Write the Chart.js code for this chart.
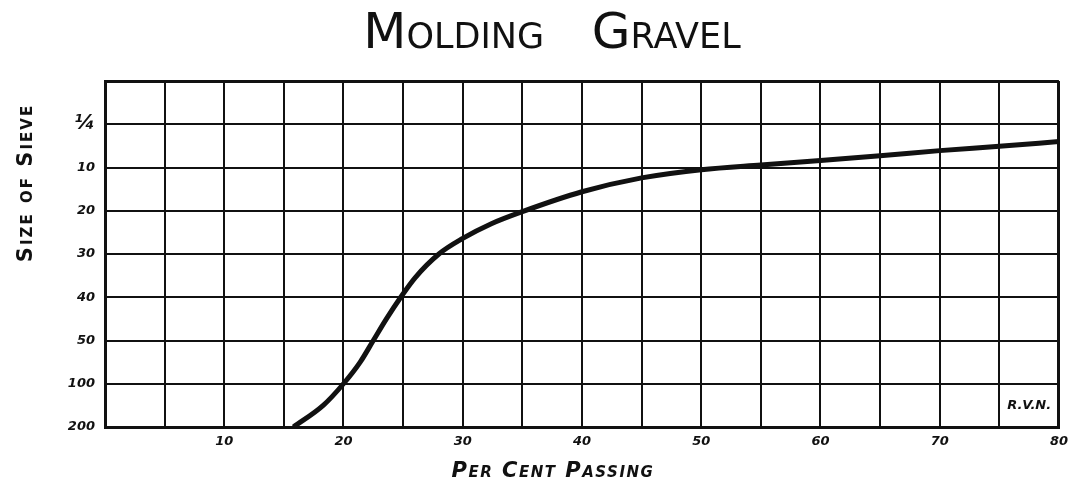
<!DOCTYPE html>
<html>
<head>
<meta charset="utf-8">
<title>Molding Gravel</title>
<script src="https://cdn.jsdelivr.net/npm/chart.js@4/dist/chart.umd.min.js"></script>
<style>
  body { margin: 0; background: #fff; }
  canvas { display: block; }
</style>
</head>
<body>
<canvas id="chart" width="1075" height="481"></canvas>
<script>
// Sieve sizes, bottom to top (position index on the y axis)
const sieveLabels = ['200', '100', '50', '40', '30', '20', '10', '¼', ''];
const xTickLabels = [10, 20, 30, 40, 50, 60, 70, 80];

// Curve: per cent passing vs sieve position
const percentPassing = [15.8, 18.3, 20, 21.4, 22.5, 23.6, 24.8, 26, 28, 30, 32.4, 35, 40, 45, 50, 55, 60, 65, 70, 75, 80];
const sievePosition  = [0, 0.5, 1, 1.5, 2, 2.5, 3, 3.45, 4, 4.36, 4.7, 4.98, 5.44, 5.76, 5.95, 6.06, 6.16, 6.27, 6.39, 6.49, 6.6];

const ink = '#111';

// Hand-lettered titles and the initials box
const letteringPlugin = {
  id: 'lettering',
  afterDraw(chart) {
    const { ctx, chartArea, scales } = chart;
    const midX = (chartArea.left + chartArea.right) / 2;
    ctx.save();
    ctx.fillStyle = ink;

    ctx.font = 'small-caps 50px "DejaVu Sans"';
    ctx.textAlign = 'center';
    ctx.textBaseline = 'alphabetic';
    ctx.fillText('Molding   Gravel', midX - 30, 48);

    ctx.font = 'italic small-caps bold 21px "DejaVu Sans"';
    ctx.letterSpacing = '1.5px';
    ctx.fillText('Per Cent Passing', midX - 29, 477);

    ctx.save();
    ctx.font = 'small-caps bold 21px "DejaVu Sans"';
    ctx.letterSpacing = '2px';
    ctx.translate(32, chartArea.top + 102);
    ctx.rotate(-Math.PI / 2);
    ctx.fillText('Size of Sieve', 0, 0);
    ctx.restore();

    ctx.letterSpacing = '0px';
    ctx.font = 'italic bold 13px "DejaVu Sans"';
    ctx.textBaseline = 'middle';
    ctx.fillText('R.V.N.', scales.x.getPixelForValue(77.5), scales.y.getPixelForValue(0.5));
    ctx.restore();
  }
};

new Chart(document.getElementById('chart'), {
  type: 'line',
  data: {
    datasets: [{
      data: percentPassing.map((x, i) => ({ x: x, y: sievePosition[i] })),
      borderColor: ink,
      borderWidth: 5,
      pointRadius: 0,
      cubicInterpolationMode: 'monotone',
      fill: false
    }]
  },
  options: {
    responsive: false,
    animation: false,
    layout: { padding: { top: 81, right: 13, left: 0, bottom: 0 } },
    plugins: {
      legend: { display: false },
      tooltip: { enabled: false }
    },
    scales: {
      x: {
        type: 'linear',
        min: 0,
        max: 80,
        afterFit: (scale) => { scale.height = 54; },
        border: { color: ink, width: 3 },
        grid: {
          color: ink,
          lineWidth: (c) => (c.tick && c.tick.value === 80 ? 3 : 2),
          drawTicks: false
        },
        ticks: {
          stepSize: 5,
          autoSkip: false,
          maxRotation: 0,
          padding: 7,
          color: ink,
          font: { family: 'DejaVu Sans', size: 13, style: 'italic', weight: 'bold' },
          callback: (v) => (xTickLabels.includes(v) ? String(v) : '')
        }
      },
      y: {
        type: 'linear',
        min: 0,
        max: 8,
        afterFit: (scale) => { scale.width = 105; },
        border: { color: ink, width: 3 },
        grid: {
          color: ink,
          lineWidth: (c) => (c.tick && c.tick.value === 8 ? 3 : 2),
          drawTicks: false
        },
        ticks: {
          stepSize: 1,
          padding: 10,
          color: ink,
          font: (c) => ({
            family: 'DejaVu Sans',
            size: c.tick && c.tick.value === 7 ? 20 : 13,
            style: 'italic',
            weight: 'bold'
          }),
          callback: (v) => sieveLabels[v]
        }
      }
    }
  },
  plugins: [letteringPlugin]
});
</script>
</body>
</html>
